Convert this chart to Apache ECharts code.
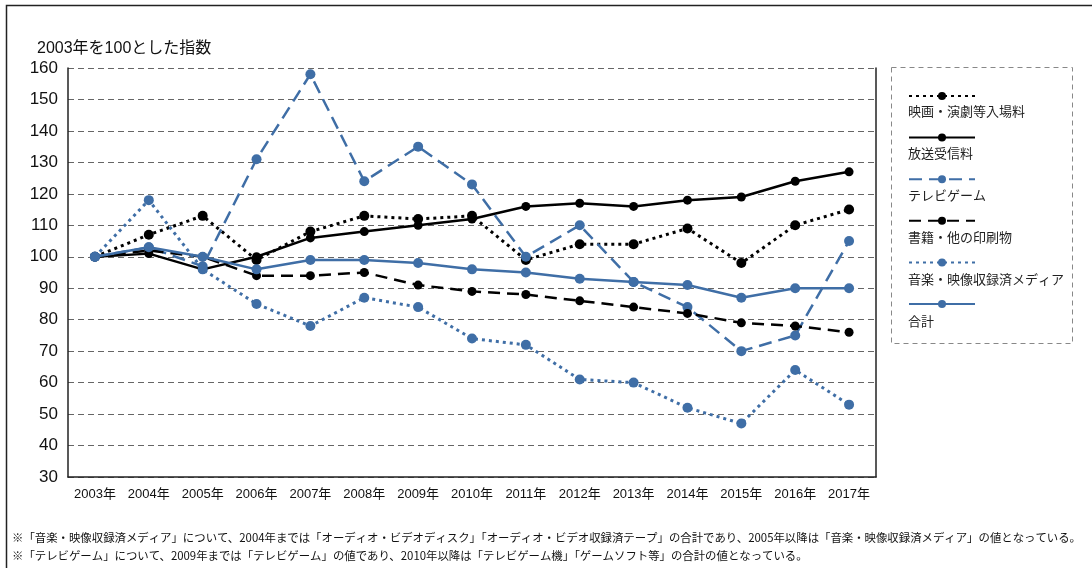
<!DOCTYPE html>
<html>
<head>
<meta charset="utf-8">
<script src="https://cdn.jsdelivr.net/npm/echarts@6/dist/echarts.min.js"></script>
<style>
  html, body { margin: 0; padding: 0; background: #fff; }
  #chart { width: 1092px; height: 568px; }
</style>
</head>
<body>
<div id="chart"></div>
<script>
// 年（横軸）
const years = ['2003年', '2004年', '2005年', '2006年', '2007年', '2008年', '2009年', '2010年',
  '2011年', '2012年', '2013年', '2014年', '2015年', '2016年', '2017年']
// 各系列の指数（2003年=100）
const eiga = [100, 107, 113, 99, 108, 113, 112, 113, 99, 104, 104, 109, 98, 110, 115]
const housou = [100, 101, 96, 100, 106, 108, 110, 112, 116, 117, 116, 118, 119, 124, 127]
const game = [100, 103, 97, 131, 158, 124, 135, 123, 100, 110, 92, 84, 70, 75, 105]
const shoseki = [100, 102, 100, 94, 94, 95, 91, 89, 88, 86, 84, 82, 79, 78, 76]
const ongaku = [100, 118, 96, 85, 78, 87, 84, 74, 72, 61, 60, 52, 47, 64, 53]
const goukei = [100, 103, 100, 96, 99, 99, 98, 96, 95, 93, 92, 91, 87, 90, 90]
// 系列名
const names = ['映画・演劇等入場料', '放送受信料', 'テレビゲーム', '書籍・他の印刷物', '音楽・映像収録済メディア', '合計']
// 縦軸
const yMin = 30
const yMax = 160
const yStep = 10

const notes = [
  '※「音楽・映像収録済メディア」について、2004年までは「オーディオ・ビデオディスク」「オーディオ・ビデオ収録済テープ」の合計であり、2005年以降は「音楽・映像収録済メディア」の値となっている。',
  '※「テレビゲーム」について、2009年までは「テレビゲーム」の値であり、2010年以降は「テレビゲーム機」「ゲームソフト等」の合計の値となっている。'
]

const font = '"Noto Sans CJK JP", "Noto Sans", sans-serif'
// 数字は Helvetica 風に
const numFont = '"Liberation Sans", "Noto Sans CJK JP", sans-serif'
const blue = '#3f6ea6'
const black = '#000'

function makeSeries(name, data, color, dash, width, size) {
  return {
    name: name,
    type: 'line',
    data: data,
    symbol: 'circle',
    symbolSize: size,
    itemStyle: { color: color },
    lineStyle: { color: color, width: width, type: dash },
    emphasis: { disabled: true },
    animation: false
  }
}

const myChart = echarts.init(document.querySelector('#chart'))

const legendTop = 86
const legendStep = 42.6

const option = {
  textStyle: { fontFamily: font },
  grid: { left: 68, right: 216, top: 68, bottom: 91 },
  title: {
    text: '2003年を100とした指数',
    left: 32,
    top: 36,
    textStyle: { fontSize: 16, fontWeight: 'normal', color: '#111', fontFamily: numFont }
  },
  legend: [
    {
      // 線とマーカーだけ
      data: names,
      orient: 'vertical',
      left: 903,
      top: legendTop,
      itemWidth: 66,
      itemHeight: 10,
      itemGap: legendStep - 10,
      selectedMode: false,
      formatter: () => '',
      textStyle: { fontSize: 1 }
    },
    {
      // 凡例の文字
      data: names.map(n => ({ name: n, icon: 'none' })),
      orient: 'vertical',
      left: 898,
      top: legendTop + 13,
      itemWidth: 0,
      itemHeight: 14,
      itemGap: legendStep - 14,
      selectedMode: false,
      textStyle: { fontSize: 13, color: '#222', fontFamily: font }
    }
  ],
  xAxis: {
    type: 'category',
    data: years,
    boundaryGap: true,
    axisLine: { lineStyle: { color: '#222', width: 1.5 } },
    axisTick: { show: false },
    axisLabel: { interval: 0, color: '#111', fontSize: 13, margin: 11, fontFamily: numFont }
  },
  yAxis: [
    {
      type: 'value',
      min: yMin,
      max: yMax,
      interval: yStep,
      axisLine: { show: true, lineStyle: { color: '#222', width: 1.5 } },
      axisTick: { show: false },
      axisLabel: { color: '#111', fontSize: 17, margin: 10, fontFamily: numFont },
      splitLine: { lineStyle: { color: '#666', type: [6, 4], width: 1 } }
    },
    {
      type: 'value',
      min: yMin,
      max: yMax,
      interval: yStep,
      position: 'right',
      axisLine: { show: true, lineStyle: { color: '#222', width: 1.5 } },
      axisTick: { show: false },
      axisLabel: { show: false },
      splitLine: { show: false }
    }
  ],
  series: [
    makeSeries(names[0], eiga, black, [3, 4], 3, 10),
    makeSeries(names[1], housou, black, 'solid', 2.5, 9),
    makeSeries(names[2], game, blue, [13, 7], 2.5, 10),
    makeSeries(names[3], shoseki, black, [12, 7], 2.5, 9),
    makeSeries(names[4], ongaku, blue, [3, 4], 3, 10),
    makeSeries(names[5], goukei, blue, 'solid', 2.5, 10)
  ],
  graphic: [
    {
      type: 'rect',
      shape: { x: 6.5, y: 5.5, width: 1200, height: 700 },
      style: { fill: 'none', stroke: '#222', lineWidth: 1.5 },
      silent: true
    },
    {
      type: 'rect',
      shape: { x: 891.5, y: 67.5, width: 181, height: 276 },
      style: { fill: 'none', stroke: '#888', lineWidth: 1, lineDash: [5, 4] },
      silent: true
    },
    {
      type: 'text',
      left: 12,
      top: 532,
      style: { text: notes[0], fontSize: 11.4, fill: '#111', fontFamily: font }
    },
    {
      type: 'text',
      left: 12,
      top: 550,
      style: { text: notes[1], fontSize: 11.4, fill: '#111', fontFamily: font }
    }
  ],
  animation: false
}

myChart.setOption(option)
</script>
</body>
</html>
